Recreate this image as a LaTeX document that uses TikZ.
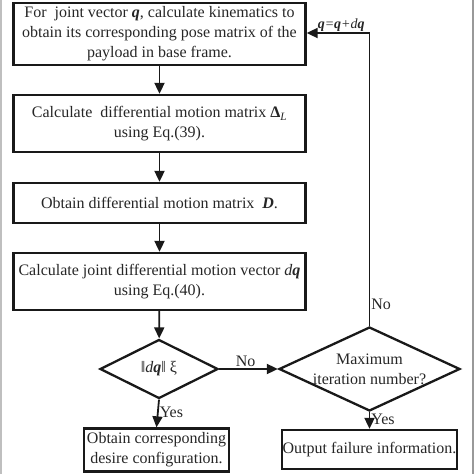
\documentclass[tikz,border=0pt]{standalone}
\usepackage{fontspec}
\setmainfont{Liberation Serif}
\usetikzlibrary{shapes.geometric,arrows.meta}
\begin{document}
\begin{tikzpicture}[x=1pt,y=-1pt,
  every node/.style={text=black!85, font=\fontsize{16}{20}\selectfont},
  procbox/.style={draw=black!90, line width=2.3pt, rectangle, inner sep=0pt, align=center},
  decision/.style={draw=black!90, line width=2.3pt, diamond, inner sep=0pt, align=center},
  flow/.style={draw=black!90, line width=1.8pt, -{Triangle[length=11pt,width=10pt]}},
  lab/.style={inner sep=1pt}]
\useasboundingbox (0,0) rectangle (474,474);
\fill[black!25] (0,0) rectangle (2,474);
\fill[black!40] (471.5,0) rectangle (474,474);
% boxes
\node[procbox, minimum width=292pt, minimum height=62pt] (b1) at (159.5,34)
  {For\ \ joint vector \textbf{\textit{q}}, calculate kinematics to\\obtain its corresponding pose matrix of the\\payload in base frame.};
\node[procbox, minimum width=292pt, minimum height=57pt] (b2) at (159.5,123.5)
  {Calculate\ \ differential motion matrix \textbf{Δ}\textsubscript{\textit{L}}\\using Eq.(39).};
\node[procbox, minimum width=292pt, minimum height=40pt] (b3) at (159.5,203)
  {Obtain differential motion matrix\ \ \textbf{\textit{D}}.};
\node[procbox, minimum width=292pt, minimum height=57pt] (b4) at (159.5,281.5)
  {Calculate joint differential motion vector \textit{d}\textbf{\textit{q}}\\using Eq.(40).};
\node[decision, minimum width=118pt, minimum height=59pt, aspect=2] (d1) at (159,369)
  {‖\textit{d}\textbf{\textit{q}}‖ ξ};
\node[decision, minimum width=181pt, minimum height=84pt, aspect=2.15] (d2) at (369.5,369)
  {Maximum\\iteration number?};
\node[procbox, minimum width=145pt, minimum height=43pt] (b5) at (156.5,450)
  {Obtain corresponding\\desire configuration.};
\node[procbox, minimum width=175pt, minimum height=39pt] (b6) at (369.5,449.5)
  {Output failure information.};
% connectors
\draw[flow] (b1) -- (b2);
\draw[flow] (b2) -- (b3);
\draw[flow] (b3) -- (b4);
\draw[flow] (b4) -- (d1);
\draw[flow] (d1.east) -- node[lab, above, pos=0.45] {No} (d2.west);
\draw[flow] (d1.south) -- node[lab, right, pos=0.45] {Yes} (b5.north);
\draw[flow] (d2.south) -- node[lab, right, pos=0.45] {Yes} (b6.north);
\coordinate (c1) at (369.5,33);
\draw[flow] (d2.north) -- node[lab, right, pos=0.075] {No} (c1) -- node[lab, above, pos=0.45, font=\fontsize{14}{16}\selectfont\itshape] {\textbf{q}=\textbf{q}+d\textbf{q}} (b1.east |- c1);
\end{tikzpicture}
\end{document}
